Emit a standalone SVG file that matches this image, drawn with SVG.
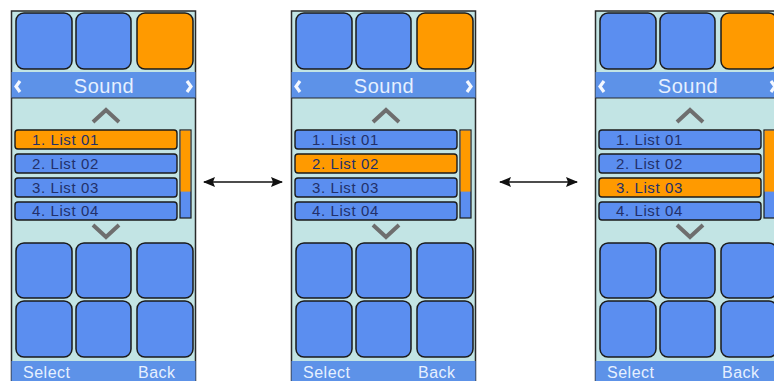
<svg xmlns="http://www.w3.org/2000/svg" width="774" height="381" viewBox="0 0 774 381">
<defs>
<style>
.bg{fill:#c2e4e4;stroke:#2a2a2a;stroke-width:1.5}
.t{fill:#5b8ef0;stroke:#1a1a1a;stroke-width:1.5}
.o{fill:#ff9a00;stroke:#1a1a1a;stroke-width:1.5}
.bar{fill:#5d92e8}
.li{fill:#5b8ef0;stroke:#1a1a1a;stroke-width:1.4}
.lo{fill:#ff9a00;stroke:#1a1a1a;stroke-width:1.4}
.lt{font-family:"Liberation Sans",Arial,sans-serif;font-size:15px;fill:#22306a;letter-spacing:0.6px}
.st{font-family:"Liberation Sans",Arial,sans-serif;font-size:20px;fill:#e6f0ff;letter-spacing:0.5px}
.bt{font-family:"Liberation Sans",Arial,sans-serif;font-size:16px;fill:#e6f0ff;letter-spacing:0.5px}
.chev{fill:none;stroke:#6e6e6e;stroke-width:4}
.wch{fill:none;stroke:#f4f8ff;stroke-width:3.2}
.conn{stroke:#111;stroke-width:1.6;fill:none}
</style>
<marker id="ah" viewBox="0 0 12 10" refX="11" refY="5" markerWidth="12" markerHeight="10" orient="auto-start-reverse" markerUnits="userSpaceOnUse">
<path d="M0,0 L12,5 L0,10 L2,5 z" fill="#111"/>
</marker>
</defs>

<g id="screen1">
<rect class="bg" x="11.5" y="11" width="184" height="372"/>
<rect class="t" x="16" y="13" width="56" height="56" rx="8"/>
<rect class="t" x="76" y="13" width="55" height="56" rx="8"/>
<rect class="o" x="137" y="13" width="56" height="56" rx="8"/>
<rect class="bar" x="11.5" y="72" width="184" height="26"/>
<line x1="11.5" y1="98" x2="195.5" y2="98" stroke="#2a2a2a" stroke-width="1.2"/>
<polyline class="wch" points="20,81 16,86.5 20,92"/>
<polyline class="wch" points="187,81 191,86.5 187,92"/>
<text class="st" x="104" y="93" text-anchor="middle">Sound</text>
<polyline class="chev" points="93,122 106,110 119,122"/>
<rect class="lo" x="15" y="130" width="162" height="19" rx="3"/>
<rect class="li" x="15" y="154" width="162" height="19" rx="3"/>
<rect class="li" x="15" y="178" width="162" height="19" rx="3"/>
<rect class="li" x="15" y="202" width="162" height="18" rx="3"/>
<text class="lt" x="32" y="145">1. List 01</text>
<text class="lt" x="32" y="169">2. List 02</text>
<text class="lt" x="32" y="193">3. List 03</text>
<text class="lt" x="32" y="216">4. List 04</text>
<rect x="180" y="130" width="11" height="88" fill="#5b8ef0" stroke="#1a1a1a" stroke-width="1.2"/>
<rect x="180.6" y="130.6" width="9.8" height="61" fill="#ff9a00"/>
<polyline class="chev" points="93,225 106,237 119,225"/>
<rect class="t" x="16" y="243" width="56" height="55" rx="8"/>
<rect class="t" x="76" y="243" width="55" height="55" rx="8"/>
<rect class="t" x="137" y="243" width="56" height="55" rx="8"/>
<rect class="t" x="16" y="301" width="56" height="56" rx="8"/>
<rect class="t" x="76" y="301" width="55" height="56" rx="8"/>
<rect class="t" x="137" y="301" width="56" height="56" rx="8"/>
<rect class="bar" x="11.5" y="361" width="184" height="22"/>
<text class="bt" x="23" y="378">Select</text>
<text class="bt" x="138" y="378">Back</text>
</g>

<g id="screen2" transform="translate(280,0)">
<rect class="bg" x="11.5" y="11" width="184" height="372"/>
<rect class="t" x="16" y="13" width="56" height="56" rx="8"/>
<rect class="t" x="76" y="13" width="55" height="56" rx="8"/>
<rect class="o" x="137" y="13" width="56" height="56" rx="8"/>
<rect class="bar" x="11.5" y="72" width="184" height="26"/>
<line x1="11.5" y1="98" x2="195.5" y2="98" stroke="#2a2a2a" stroke-width="1.2"/>
<polyline class="wch" points="20,81 16,86.5 20,92"/>
<polyline class="wch" points="187,81 191,86.5 187,92"/>
<text class="st" x="104" y="93" text-anchor="middle">Sound</text>
<polyline class="chev" points="93,122 106,110 119,122"/>
<rect class="li" x="15" y="130" width="162" height="19" rx="3"/>
<rect class="lo" x="15" y="154" width="162" height="19" rx="3"/>
<rect class="li" x="15" y="178" width="162" height="19" rx="3"/>
<rect class="li" x="15" y="202" width="162" height="18" rx="3"/>
<text class="lt" x="32" y="145">1. List 01</text>
<text class="lt" x="32" y="169">2. List 02</text>
<text class="lt" x="32" y="193">3. List 03</text>
<text class="lt" x="32" y="216">4. List 04</text>
<rect x="180" y="130" width="11" height="88" fill="#5b8ef0" stroke="#1a1a1a" stroke-width="1.2"/>
<rect x="180.6" y="130.6" width="9.8" height="61" fill="#ff9a00"/>
<polyline class="chev" points="93,225 106,237 119,225"/>
<rect class="t" x="16" y="243" width="56" height="55" rx="8"/>
<rect class="t" x="76" y="243" width="55" height="55" rx="8"/>
<rect class="t" x="137" y="243" width="56" height="55" rx="8"/>
<rect class="t" x="16" y="301" width="56" height="56" rx="8"/>
<rect class="t" x="76" y="301" width="55" height="56" rx="8"/>
<rect class="t" x="137" y="301" width="56" height="56" rx="8"/>
<rect class="bar" x="11.5" y="361" width="184" height="22"/>
<text class="bt" x="23" y="378">Select</text>
<text class="bt" x="138" y="378">Back</text>
</g>

<g id="screen3" transform="translate(584,0)">
<rect class="bg" x="11.5" y="11" width="184" height="372"/>
<rect class="t" x="16" y="13" width="56" height="56" rx="8"/>
<rect class="t" x="76" y="13" width="55" height="56" rx="8"/>
<rect class="o" x="137" y="13" width="56" height="56" rx="8"/>
<rect class="bar" x="11.5" y="72" width="184" height="26"/>
<line x1="11.5" y1="98" x2="195.5" y2="98" stroke="#2a2a2a" stroke-width="1.2"/>
<polyline class="wch" points="20,81 16,86.5 20,92"/>
<polyline class="wch" points="187,81 191,86.5 187,92"/>
<text class="st" x="104" y="93" text-anchor="middle">Sound</text>
<polyline class="chev" points="93,122 106,110 119,122"/>
<rect class="li" x="15" y="130" width="162" height="19" rx="3"/>
<rect class="li" x="15" y="154" width="162" height="19" rx="3"/>
<rect class="lo" x="15" y="178" width="162" height="19" rx="3"/>
<rect class="li" x="15" y="202" width="162" height="18" rx="3"/>
<text class="lt" x="32" y="145">1. List 01</text>
<text class="lt" x="32" y="169">2. List 02</text>
<text class="lt" x="32" y="193">3. List 03</text>
<text class="lt" x="32" y="216">4. List 04</text>
<rect x="180" y="130" width="11" height="88" fill="#5b8ef0" stroke="#1a1a1a" stroke-width="1.2"/>
<rect x="180.6" y="130.6" width="9.8" height="61" fill="#ff9a00"/>
<polyline class="chev" points="93,225 106,237 119,225"/>
<rect class="t" x="16" y="243" width="56" height="55" rx="8"/>
<rect class="t" x="76" y="243" width="55" height="55" rx="8"/>
<rect class="t" x="137" y="243" width="56" height="55" rx="8"/>
<rect class="t" x="16" y="301" width="56" height="56" rx="8"/>
<rect class="t" x="76" y="301" width="55" height="56" rx="8"/>
<rect class="t" x="137" y="301" width="56" height="56" rx="8"/>
<rect class="bar" x="11.5" y="361" width="184" height="22"/>
<text class="bt" x="23" y="378">Select</text>
<text class="bt" x="138" y="378">Back</text>
</g>

<g id="connectors">
<line class="conn" x1="204" y1="182" x2="282" y2="182" marker-start="url(#ah)" marker-end="url(#ah)"/>
<line class="conn" x1="500" y1="182" x2="577" y2="182" marker-start="url(#ah)" marker-end="url(#ah)"/>
</g>
</svg>
